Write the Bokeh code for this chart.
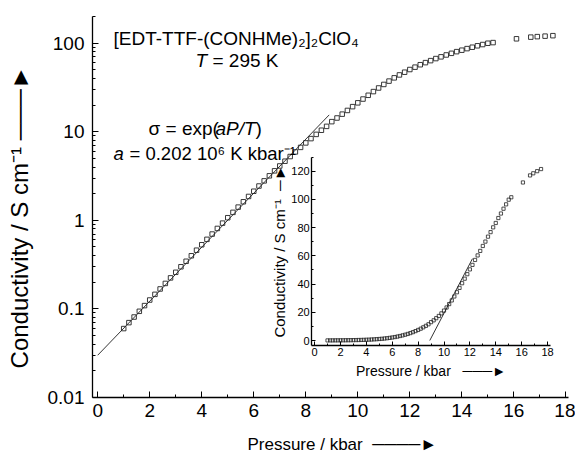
from bokeh.plotting import figure
from bokeh.models import (Range1d, LinearScale, LinearAxis, FixedTicker,
                          SingleIntervalTicker, CustomJSTickFormatter, Label)
from bokeh.embed import file_html
from bokeh.resources import INLINE
import math

# ---------------- data ----------------
pressure = [1.0, 1.2, 1.4, 1.6, 1.8, 2.0, 2.2, 2.4, 2.6, 2.8,
            3.0, 3.2, 3.4, 3.6, 3.8, 4.0, 4.2, 4.4, 4.6, 4.8,
            5.0, 5.2, 5.4, 5.6, 5.8, 6.0, 6.2, 6.4, 6.6, 6.8,
            7.0, 7.2, 7.4, 7.6, 7.8, 8.0, 8.2, 8.4, 8.6, 8.8,
            9.0, 9.2, 9.4, 9.6, 9.8, 10.0, 10.2, 10.4, 10.6, 10.8,
            11.0, 11.2, 11.4, 11.6, 11.8, 12.0, 12.2, 12.4, 12.6, 12.8,
            13.0, 13.2, 13.4, 13.6, 13.8, 14.0, 14.2, 14.4, 14.6, 14.8,
            15.0, 15.2, 16.1, 16.65, 16.9, 17.2, 17.5]
conductivity = [0.060, 0.070, 0.081, 0.094, 0.109, 0.126, 0.146, 0.168, 0.194, 0.224,
                0.259, 0.299, 0.345, 0.398, 0.46, 0.53, 0.61, 0.70, 0.81, 0.93,
                1.07, 1.23, 1.41, 1.62, 1.86, 2.13, 2.44, 2.79, 3.18, 3.62,
                4.11, 4.65, 5.25, 5.92, 6.66, 7.48, 8.37, 9.34, 10.4, 11.5,
                13.0, 14.3, 15.8, 17.4, 19.2, 21.2, 23.4, 25.8, 28.4, 31.2,
                34.2, 37.3, 40.6, 43.8, 47.0, 50.4, 53.6, 57.1, 60.3, 63.5,
                67.0, 70.1, 73.6, 76.8, 80.2, 83.3, 86.8, 90.0, 93.4, 96.5,
                99.8, 101.5, 112.0, 117.0, 118.5, 120.0, 121.5]

fit_pressure = [0.0, 8.9]
fit_conductivity = [0.030, 15.5]
inset_fit_pressure = [8.9, 12.2]
inset_fit_conductivity = [0.0, 58.0]

y_ticks = [0.01, 0.1, 1, 10, 100]
y_tick_labels = ["0.01", "0.1", "1", "10", "100"]

# ---------------- geometry ----------------
W, H = 575, 459
FL, FR, FT, FB = 92, 568, 16, 397         # main frame, canvas pixels
X0, X1 = -0.2, 18.1
Y0, Y1 = 0.01, 200.0
IX_ZERO, IX_SCALE = 314.1, 12.94          # inset: canvas x of P=0, px per kbar
IY_ZERO, IY_SCALE = 340.0, 1.411          # inset: canvas y of sigma=0, px per unit

def dx(cx):
    return X0 + (cx - FL) / (FR - FL) * (X1 - X0)

def dy(cy):
    lo, hi = math.log10(Y0), math.log10(Y1)
    return 10 ** (hi - (cy - FT) / (FB - FT) * (hi - lo))

FONT = "Liberation Sans"

p = figure(width=W, height=H, x_range=Range1d(X0, X1), y_range=Range1d(Y0, Y1),
           y_axis_type="log", output_backend="svg", toolbar_location=None,
           min_border_left=FL, min_border_right=W - FR, min_border_top=FT,
           min_border_bottom=H - FB)
p.outline_line_color = None
p.xgrid.visible = False
p.ygrid.visible = False

p.extra_x_ranges = {"ix": Range1d((FL - IX_ZERO) / IX_SCALE, (FR - IX_ZERO) / IX_SCALE)}
p.extra_y_ranges = {"iy": Range1d((IY_ZERO - FB) / IY_SCALE, (IY_ZERO - FT) / IY_SCALE)}
p.extra_x_scales = {"ix": LinearScale()}
p.extra_y_scales = {"iy": LinearScale()}

def style_axis(ax, tick_size, label_size):
    ax.axis_line_color = "black"
    ax.axis_line_width = 1.3
    ax.major_tick_in = 6
    ax.major_tick_out = 0
    ax.minor_tick_in = 3
    ax.minor_tick_out = 0
    ax.major_tick_line_color = "black"
    ax.minor_tick_line_color = "black"
    ax.major_label_text_font = FONT
    ax.major_label_text_font_size = f"{tick_size}px"
    ax.major_label_text_color = "black"
    ax.axis_label_text_font = FONT
    ax.axis_label_text_font_size = f"{label_size}px"
    ax.axis_label_text_font_style = "normal"
    ax.axis_label_text_color = "black"

NB = "\u00a0"

xa = p.xaxis[0]
xa.ticker = SingleIntervalTicker(interval=2, num_minor_ticks=2)
style_axis(xa, 19, 17)
xa.major_label_standoff = 6
xa.axis_label_standoff = 15
xa.axis_label = NB * 5 + "Pressure / kbar" + NB * 2 + "\u2500" * 4 + "\u25BA"

ya = p.yaxis[0]
ya.ticker = FixedTicker(ticks=y_ticks,
                        minor_ticks=[k * 10.0 ** e for e in (-2, -1, 0, 1) for k in range(2, 10)] + [200.0])
ya.formatter = CustomJSTickFormatter(args=dict(tvals=y_ticks, tlabels=y_tick_labels),
                                     code="const i = tvals.indexOf(tick); return i >= 0 ? tlabels[i] : '';")
style_axis(ya, 19, 24)
ya.major_label_standoff = 8
ya.axis_label_standoff = 12
ya.axis_label = "Conductivity / S cm\u207B\u00B9" + NB + "\u2500" * 3 + "\u25BA" + NB * 3

p.line(fit_pressure, fit_conductivity, line_color="black", line_width=0.8)
p.scatter(pressure, conductivity, marker="square", size=4.5, fill_color=None,
          line_color="#222222", line_width=0.9)

p.line(inset_fit_pressure, inset_fit_conductivity, line_color="black", line_width=0.8,
       x_range_name="ix", y_range_name="iy")
p.scatter(pressure, conductivity, marker="square", size=3.2, fill_color=None,
          line_color="#222222", line_width=0.8, x_range_name="ix", y_range_name="iy")

iya = LinearAxis(x_range_name="ix", y_range_name="iy", fixed_location=-0.23,
                 bounds=(-3.5, 130), ticker=SingleIntervalTicker(interval=20, num_minor_ticks=2))
style_axis(iya, 11, 15)
iya.major_tick_in = 4
iya.minor_tick_in = 2
iya.major_label_standoff = 2
iya.axis_label_standoff = 0
iya.axis_label = "Conductivity / S cm\u207B\u00B9" + NB * 2 + "\u2500\u25BA"
p.add_layout(iya, "left")

ixa = LinearAxis(x_range_name="ix", y_range_name="iy", fixed_location=-3.5,
                 bounds=(-0.23, 18.2), ticker=SingleIntervalTicker(interval=2, num_minor_ticks=2))
style_axis(ixa, 11, 14)
ixa.major_tick_in = 4
ixa.minor_tick_in = 2
ixa.major_label_standoff = 3
ixa.axis_label_standoff = 3
ixa.axis_label = "Pressure / kbar" + NB * 3 + "\u2500\u2500\u2500\u25BA"
p.add_layout(ixa, "below")

def add_label(text, cx, cy, size, style="normal", xoff=0):
    p.add_layout(Label(x=dx(cx), y=dy(cy), text=text, x_offset=xoff,
                       text_font=FONT, text_font_size=f"{size}px",
                       text_font_style=style, text_color="black",
                       text_baseline="middle", text_align="left"))

add_label("[EDT-TTF-(CONHMe)\u2082]\u2082ClO\u2084", 113, 38, 19)
add_label("T", 195, 60, 19, "italic")
add_label("= 295 K", 195, 60, 19, xoff=17)
add_label("\u03C3 = exp(", 148, 128, 19)
add_label("aP/T", 148, 128, 19, "italic", xoff=67)
add_label(")", 148, 128, 19, xoff=107)
add_label("a", 113, 153, 18.5, "italic")
add_label("= 0.202 10\u2076 K kbar\u207B\u00B9", 113, 153, 18.5, xoff=16)

open("out.html", "w").write(file_html(p, INLINE))
